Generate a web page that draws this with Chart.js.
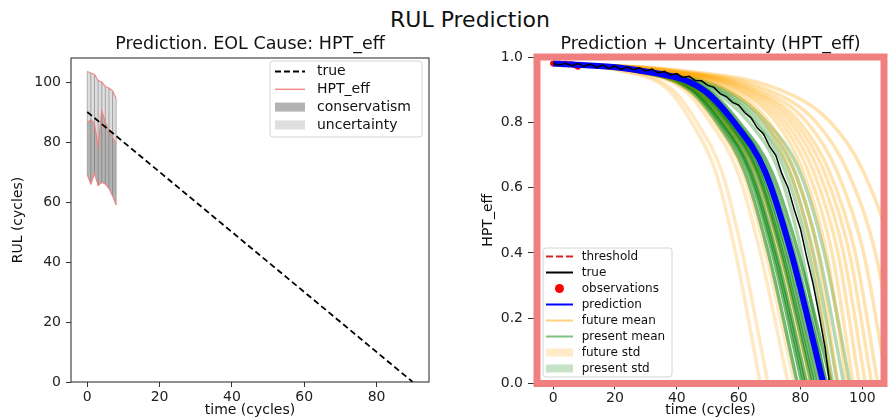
<!DOCTYPE html>
<html>
<head>
<meta charset="utf-8">
<script src="https://cdn.jsdelivr.net/npm/chart.js@4.4.1/dist/chart.umd.min.js"></script>
<style>
  html, body { margin: 0; padding: 0; background: #fff; }
  body { width: 889px; height: 419px; position: relative; overflow: hidden; font-family: "DejaVu Sans", sans-serif; }
  #suptitle { position: absolute; top: 7px; left: 470px; transform: translateX(-50%); font-size: 22px; line-height: 26px; color: #111; white-space: nowrap; }
  #left { position: absolute; left: 0; top: 0; }
  #right { position: absolute; left: 440px; top: 0; }
</style>
</head>
<body>
<div id="suptitle">RUL Prediction</div>
<canvas id="left" width="440" height="419"></canvas>
<canvas id="right" width="449" height="419"></canvas>
<script>
// ---- left panel: RUL estimate at each prediction step ----
const steps = [0, 1, 2, 3, 4, 5, 6, 7, 8];
const rulUpper = [103.5, 103, 102.5, 100.5, 100, 98.5, 98, 97, 94.5];
const rulMedian = [86.5, 87.5, 86, 78.5, 90.5, 86.5, 84, 81.5, 79.5];
const rulLower = [69, 66, 69.5, 65.5, 66.5, 66, 64.5, 62, 59];
const trueRulTime = [0, 90];
const trueRul = [90, 0];
const leftXTicks = [0, 20, 40, 60, 80];
const leftYTicks = [0, 20, 40, 60, 80, 100];

// ---- right panel: HPT_eff trajectories ----
// each trajectory is stored as the times at which it passes these health levels
const levels = [0.98, 0.96, 0.9, 0.8, 0.65, 0.4, 0.0];
const predTimes = [0, 27, 48.5, 58.5, 68.5, 77, 87.4];
const futureTimes = [
  [0, 20.7, 37.2, 44.8, 52.5, 59.0, 67],
  [0, 21.5, 38.6, 46.5, 54.5, 61.2, 69.5],
  [0, 23.5, 42.2, 50.8, 59.6, 67.0, 76],
  [0, 24.1, 43.3, 52.2, 61.2, 68.7, 78],
  [0, 25.6, 46.1, 55.5, 65.1, 73.1, 83],
  [0, 26.9, 48.3, 58.2, 68.2, 76.6, 87],
  [0, 30.6, 55.8, 68.4, 76.5, 83.7, 90],
  [0, 31.3, 57.0, 69.9, 78.2, 85.6, 92],
  [0, 32.3, 58.9, 72.2, 80.8, 88.4, 95],
  [0, 33.0, 60.1, 73.7, 82.5, 90.2, 97],
  [0, 33.7, 61.4, 75.2, 84.2, 92.1, 99],
  [0, 34.3, 62.6, 76.8, 85.9, 93.9, 101],
  [0, 35.0, 63.9, 78.3, 87.6, 95.8, 103],
  [0, 35.7, 65.1, 79.8, 89.3, 97.7, 105],
  [0, 36.7, 67.0, 82.1, 91.8, 100.4, 108],
  [0, 38.1, 69.4, 85.1, 95.2, 104.2, 112],
  [0, 40.1, 73.2, 89.7, 100.3, 109.7, 118]
];
const presentTimes = [
  [0, 24.4, 43.8, 52.9, 61.9, 69.6, 79],
  [0, 24.9, 44.7, 53.9, 63.1, 70.9, 80.5],
  [0, 25.1, 45.1, 54.4, 63.7, 71.6, 81.3],
  [0, 25.3, 45.5, 54.9, 64.3, 72.2, 82],
  [0, 25.8, 46.3, 55.9, 65.5, 73.6, 83.5],
  [0, 26.0, 46.7, 56.3, 66.0, 74.1, 84.2],
  [0, 26.3, 47.2, 56.9, 66.6, 74.9, 85],
  [0, 26.6, 47.7, 57.5, 67.4, 75.8, 86],
  [0, 27.3, 49.1, 59.2, 69.4, 78.0, 88.5],
  [0, 27.8, 50.0, 60.2, 70.6, 79.3, 90],
  [0, 29.6, 51.0, 63.4, 73.0, 80.4, 88],
  [0, 30.4, 52.5, 65.2, 75.1, 82.7, 90.5],
  [0, 30.9, 53.4, 66.2, 76.4, 84.1, 92],
  [0, 31.6, 54.5, 67.7, 78.0, 85.9, 94],
  [0, 32.3, 55.7, 69.1, 79.7, 87.7, 96]
];
const trueTime = [0, 2, 4, 6, 8, 10, 12, 14, 16, 18, 20, 22, 24, 26, 28, 30, 32, 34, 36, 38, 40, 42, 44,
  46, 48, 50, 52, 54, 56, 58, 60, 62, 64, 66, 68, 70, 72, 74, 76, 78, 80, 82, 84, 86, 88, 89.4];
const trueHealth = [0.981, 0.975, 0.981, 0.973, 0.980, 0.971, 0.978, 0.968, 0.975, 0.965, 0.972, 0.962,
  0.969, 0.961, 0.967, 0.957, 0.963, 0.951, 0.956, 0.945, 0.949, 0.937, 0.941, 0.928, 0.927, 0.913,
  0.907, 0.888, 0.879, 0.861, 0.853, 0.829, 0.814, 0.783, 0.765, 0.726, 0.699, 0.642, 0.599, 0.532,
  0.473, 0.387, 0.308, 0.212, 0.107, 0];
const obsTime = [0, 1, 2, 3, 4, 5, 6, 7, 8];
const obsHealth = [0.980, 0.979, 0.980, 0.978, 0.979, 0.978, 0.978, 0.975, 0.970];
const threshold = 0;
const rightXTicks = [0, 20, 40, 60, 80, 100];
const rightYTicks = [0, 0.2, 0.4, 0.6, 0.8, 1.0];

const FONT = '"DejaVu Sans", sans-serif';
Chart.defaults.font.family = FONT;
Chart.defaults.color = '#222';

const pts = (xs, ys) => xs.map((x, i) => ({ x: x, y: ys[i] }));
const none = 'rgba(0,0,0,0)';

function frame(color, width) {
  return {
    id: 'frame',
    afterDatasetsDraw(chart) {
      const { ctx, chartArea: a } = chart;
      ctx.save();
      ctx.strokeStyle = color;
      ctx.lineWidth = width;
      ctx.strokeRect(a.left, a.top, a.right - a.left, a.bottom - a.top);
      ctx.restore();
    }
  };
}

function subTitle(text) {
  return {
    id: 'subTitle',
    afterDraw(chart) {
      const { ctx, chartArea: a } = chart;
      ctx.save();
      ctx.font = '17.5px ' + FONT;
      ctx.fillStyle = '#111';
      ctx.textAlign = 'center';
      ctx.textBaseline = 'middle';
      ctx.fillText(text, (a.left + a.right) / 2, 44);
      ctx.restore();
    }
  };
}

function legendBox(box, items) {
  return {
    id: 'legendBox',
    afterDraw(chart) {
      const ctx = chart.ctx;
      ctx.save();
      ctx.beginPath();
      ctx.roundRect(box.x, box.y, box.w, box.h, 3);
      ctx.fillStyle = 'rgba(255,255,255,0.9)';
      ctx.fill();
      ctx.strokeStyle = '#d4d4d4';
      ctx.lineWidth = 1;
      ctx.stroke();
      ctx.font = box.font + 'px ' + FONT;
      ctx.textBaseline = 'middle';
      items.forEach((it, i) => {
        const y = box.row0 + i * box.step;
        const x0 = box.hx, x1 = box.hx + box.hlen;
        if (it.kind === 'line') {
          ctx.strokeStyle = it.color;
          ctx.lineWidth = it.width;
          ctx.setLineDash(it.dash || []);
          ctx.beginPath();
          ctx.moveTo(x0, y);
          ctx.lineTo(x1, y);
          ctx.stroke();
          ctx.setLineDash([]);
        } else if (it.kind === 'patch') {
          ctx.fillStyle = it.color;
          ctx.fillRect(x0, y - box.ph / 2, box.hlen, box.ph);
        } else if (it.kind === 'dot') {
          ctx.fillStyle = it.color;
          ctx.beginPath();
          ctx.arc((x0 + x1) / 2, y, 4.5, 0, Math.PI * 2);
          ctx.fill();
        }
        ctx.fillStyle = '#111';
        ctx.fillText(it.label, box.tx, y);
      });
      ctx.restore();
    }
  };
}

function axis(opts) {
  return {
    type: 'linear',
    min: opts.min,
    max: opts.max,
    afterBuildTicks: s => { s.ticks = opts.ticks.map(v => ({ value: v })); },
    afterFit: s => { if (opts.width) s.width = opts.width; if (opts.height) s.height = opts.height; },
    grid: { drawOnChartArea: false, drawTicks: true, tickLength: opts.tickLength, color: '#333' },
    border: { display: false },
    ticks: {
      autoSkip: false, maxRotation: 0, padding: opts.pad, color: '#222',
      font: { size: 14 },
      callback: opts.fmt || (v => String(v))
    },
    title: { display: true, text: opts.title, color: '#111', font: { size: 14 }, padding: opts.titlePad }
  };
}

// ---------- left chart ----------
const pink = 'rgba(240,128,128,0.9)';
const stripes = steps.flatMap((t, i) => [{ x: t, y: rulLower[i] }, { x: t, y: rulUpper[i] }, { x: t, y: null }]);

new Chart(document.getElementById('left'), {
  type: 'line',
  data: {
    datasets: [
      { data: pts(trueRulTime, trueRul), borderColor: '#000', borderWidth: 1.8, borderDash: [6, 3.5], pointRadius: 0 },
      { data: pts(steps, rulUpper), borderColor: pink, borderWidth: 1.2, pointRadius: 0 },
      { data: pts(steps, rulMedian), borderColor: pink, borderWidth: 1.2, pointRadius: 0 },
      { data: pts(steps, rulLower), borderColor: pink, borderWidth: 1.2, pointRadius: 0 },
      { data: stripes, borderColor: 'rgba(90,90,90,0.45)', borderWidth: 1, pointRadius: 0, spanGaps: false },
      { data: pts(steps, rulMedian), borderColor: none, borderWidth: 1, pointRadius: 0, fill: 6, backgroundColor: 'rgba(120,120,120,0.42)' },
      { data: pts(steps, rulLower), borderColor: none, borderWidth: 1, pointRadius: 0, fill: false },
      { data: pts(steps, rulUpper), borderColor: none, borderWidth: 1, pointRadius: 0, fill: 6, backgroundColor: 'rgba(195,195,195,0.55)' }
    ]
  },
  options: {
    responsive: false, animation: false, devicePixelRatio: 1,
    layout: { padding: { top: 58, right: 11, left: 0, bottom: 0 } },
    plugins: { legend: { display: false }, tooltip: { enabled: false } },
    scales: {
      x: axis({ min: -4.5, max: 94.5, ticks: leftXTicks, height: 37, tickLength: 5, pad: 2,
        title: 'time (cycles)', titlePad: { top: 0, bottom: 0 } }),
      y: axis({ min: 0, max: 108, ticks: leftYTicks, width: 71, tickLength: 5, pad: 5,
        title: 'RUL (cycles)', titlePad: { top: 10, bottom: 0 } })
    }
  },
  plugins: [
    frame('#222', 1),
    subTitle('Prediction. EOL Cause: HPT_eff'),
    legendBox({ x: 270, y: 61, w: 152, h: 76, font: 14, row0: 71.5, step: 17.8, hx: 275, hlen: 30, tx: 317, ph: 9 }, [
      { label: 'true', kind: 'line', color: '#000', width: 1.8, dash: [6, 3] },
      { label: 'HPT_eff', kind: 'line', color: pink, width: 1.5 },
      { label: 'conservatism', kind: 'patch', color: '#b3b3b3' },
      { label: 'uncertainty', kind: 'patch', color: '#dedede' }
    ])
  ]
});

// ---------- right chart ----------
const rightSets = [];
rightSets.push({ data: pts(trueTime, trueHealth), borderColor: '#000', borderWidth: 1.5, pointRadius: 0 });
rightSets.push({ data: pts(predTimes, levels), borderColor: '#0000ff', borderWidth: 6, pointRadius: 0, cubicInterpolationMode: 'monotone' });
rightSets.push({ data: pts(obsTime, obsHealth), showLine: false, pointRadius: 3, pointBackgroundColor: 'red', pointBorderWidth: 0 });
rightSets.push({ data: [{ x: -5.2, y: threshold }, { x: 107, y: threshold }], borderColor: '#d62728', borderWidth: 1.5, borderDash: [7, 3], pointRadius: 0 });
futureTimes.forEach((times, i) => {
  rightSets.push({ data: pts(times, levels), borderColor: i < 6 ? 'rgba(255,165,0,0.24)' : 'rgba(255,165,0,0.3)',
    borderWidth: 3.5, pointRadius: 0, cubicInterpolationMode: 'monotone' });
});
presentTimes.forEach((times, i) => {
  rightSets.push({ data: pts(times, levels), borderColor: i < 10 ? 'rgba(0,128,0,0.55)' : 'rgba(0,128,0,0.3)',
    borderWidth: 3.5, pointRadius: 0, cubicInterpolationMode: 'monotone' });
});

new Chart(document.getElementById('right'), {
  type: 'line',
  data: { datasets: rightSets },
  options: {
    responsive: false, animation: false, devicePixelRatio: 1,
    layout: { padding: { top: 57, right: 5, left: 0, bottom: 0 } },
    plugins: { legend: { display: false }, tooltip: { enabled: false } },
    scales: {
      x: axis({ min: -5.2, max: 107, ticks: rightXTicks, height: 35.5, tickLength: 6, pad: 0.5,
        title: 'time (cycles)', titlePad: { top: 0, bottom: 0 } }),
      y: axis({ min: 0, max: 1, ticks: rightYTicks, width: 97, tickLength: 9, pad: 5,
        title: 'HPT_eff', titlePad: { top: 39.6, bottom: 0 }, fmt: v => v.toFixed(1) })
    }
  },
  plugins: [
    frame('#f08080', 7),
    subTitle('Prediction + Uncertainty (HPT_eff)'),
    legendBox({ x: 103, y: 248, w: 129, h: 129, font: 12, row0: 256.5, step: 16, hx: 106, hlen: 27, tx: 141.7, ph: 8 }, [
      { label: 'threshold', kind: 'line', color: '#d62728', width: 2, dash: [7, 3] },
      { label: 'true', kind: 'line', color: '#000', width: 2 },
      { label: 'observations', kind: 'dot', color: 'red' },
      { label: 'prediction', kind: 'line', color: '#0000ff', width: 2 },
      { label: 'future mean', kind: 'line', color: 'rgba(255,165,0,0.5)', width: 2 },
      { label: 'present mean', kind: 'line', color: 'rgba(0,128,0,0.5)', width: 2 },
      { label: 'future std', kind: 'patch', color: 'rgba(255,165,0,0.22)' },
      { label: 'present std', kind: 'patch', color: 'rgba(0,128,0,0.22)' }
    ])
  ]
});
</script>
</body>
</html>
